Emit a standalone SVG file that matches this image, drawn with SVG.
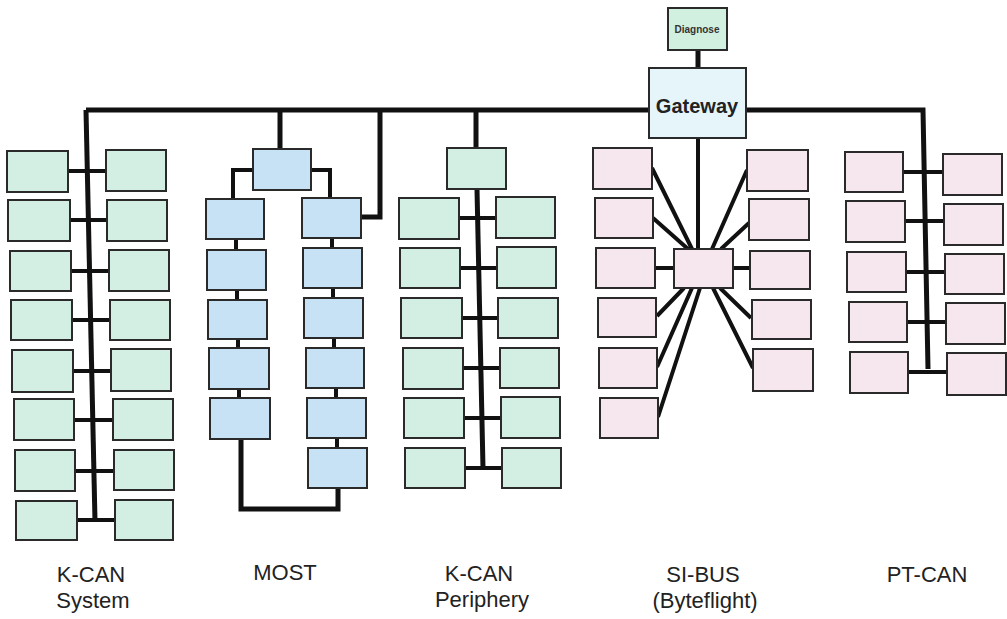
<svg xmlns="http://www.w3.org/2000/svg" width="1007" height="619" viewBox="0 0 1007 619">
<style>
rect{stroke:#2a2a2a;stroke-width:2}
.g{fill:#d3eee2}
.b{fill:#c6e2f4}
.p{fill:#f6e7ef}
.gw{fill:#e6f5fa}
.dg{fill:#d2f0df}
.bus{fill:none;stroke:#111;stroke-width:5;stroke-linejoin:miter}
.c{fill:none;stroke:#111;stroke-width:4}
.lbl{font-family:"Liberation Sans",Arial,sans-serif;font-size:22px;fill:#222;text-anchor:middle}
</style>
<rect width="1007" height="619" fill="#ffffff" style="stroke:none"/>
<g id="connectors">
<path class="bus" d="M86,110 H923 L928,369"/>
<path class="bus" d="M86,110 L95,521"/>
<path class="bus" d="M698,50 V68"/>
<path class="c" d="M698,138 V249"/>
<path class="c" d="M68,171 H106 M70,220 H107 M71,271 H109 M72,320 H110 M73,371 H111 M74,420 H113 M75,471 H114 M77,520 H115"/>
<path class="bus" d="M280,110 V149"/>
<path class="c" d="M253,170 H233 V199"/>
<path class="c" d="M311,170 H330 V198"/>
<path class="bus" d="M361,217 H380 V110"/>
<path class="c" d="M236,239 V250 M237,290 V300 M238,339 V348 M239,389 V398"/>
<path class="c" d="M332,238 V248 M333,288 V298 M334,338 V348 M336,388 V398 M337,438 V448"/>
<path class="bus" d="M241,438 V509 H338 V488"/>
<path class="bus" d="M476,110 V148"/>
<path class="bus" d="M477,189 L483,468"/>
<path class="c" d="M459,218 H496 M460,268 H497 M461,318 H498 M463,368 H500 M464,418 H501 M465,468 H502"/>
<path class="c" d="M652,168 L692,249 M653,218 L688,249 M655,268 H674 M657,316 L684,288 M657,367 L692,288 M658,417 L700,288"/>
<path class="c" d="M747,170 L712,249 M749,223 L721,249 M733,268 H750 M751,318 L720,288 M753,368 L713,288"/>
<path class="c" d="M903,172 H943 M905,221 H944 M906,272 H945 M907,322 H946 M908,372 H947"/>
</g>
<g id="diagnose"><rect class="dg" x="668" y="8" width="59" height="42"/><text x="697" y="33" style="font-family:'Liberation Sans',Arial,sans-serif;font-size:10px;font-weight:bold;fill:#333;text-anchor:middle">Diagnose</text></g>
<g id="gateway"><rect class="gw" x="649" y="68" width="97" height="70"/><text x="697" y="113" style="font-family:'Liberation Sans',Arial,sans-serif;font-size:20px;font-weight:bold;fill:#222;text-anchor:middle">Gateway</text></g>
<g id="kcan-system">
<rect class="g" x="7" y="151" width="61" height="41"/><rect class="g" x="106" y="150" width="60" height="41"/>
<rect class="g" x="8" y="200" width="62" height="41"/><rect class="g" x="107" y="200" width="60" height="41"/>
<rect class="g" x="10" y="251" width="61" height="40"/><rect class="g" x="109" y="250" width="60" height="41"/>
<rect class="g" x="11" y="300" width="61" height="40"/><rect class="g" x="110" y="300" width="60" height="40"/>
<rect class="g" x="12" y="350" width="61" height="42"/><rect class="g" x="111" y="349" width="60" height="42"/>
<rect class="g" x="14" y="399" width="60" height="41"/><rect class="g" x="113" y="399" width="60" height="41"/>
<rect class="g" x="15" y="450" width="60" height="41"/><rect class="g" x="114" y="450" width="60" height="40"/>
<rect class="g" x="16" y="501" width="61" height="39"/><rect class="g" x="115" y="500" width="58" height="40"/>
</g>
<g id="most">
<rect class="b" x="253" y="149" width="58" height="41"/>
<rect class="b" x="206" y="199" width="58" height="40"/><rect class="b" x="207" y="250" width="59" height="40"/><rect class="b" x="208" y="300" width="59" height="39"/><rect class="b" x="209" y="348" width="60" height="41"/><rect class="b" x="210" y="398" width="60" height="41"/>
<rect class="b" x="302" y="198" width="59" height="40"/><rect class="b" x="303" y="248" width="59" height="40"/><rect class="b" x="304" y="298" width="59" height="40"/><rect class="b" x="306" y="348" width="58" height="40"/><rect class="b" x="307" y="398" width="59" height="40"/><rect class="b" x="308" y="448" width="59" height="40"/>
</g>
<g id="kcan-periphery">
<rect class="g" x="447" y="148" width="59" height="41"/>
<rect class="g" x="399" y="198" width="60" height="41"/><rect class="g" x="496" y="197" width="59" height="41"/>
<rect class="g" x="400" y="248" width="60" height="40"/><rect class="g" x="497" y="247" width="59" height="41"/>
<rect class="g" x="401" y="298" width="61" height="40"/><rect class="g" x="498" y="298" width="60" height="40"/>
<rect class="g" x="403" y="348" width="60" height="41"/><rect class="g" x="500" y="348" width="59" height="40"/>
<rect class="g" x="404" y="398" width="60" height="40"/><rect class="g" x="501" y="397" width="59" height="41"/>
<rect class="g" x="405" y="448" width="60" height="40"/><rect class="g" x="502" y="448" width="59" height="40"/>
</g>
<g id="si-bus">
<rect class="p" x="674" y="249" width="59" height="39"/>
<rect class="p" x="593" y="148" width="59" height="41"/><rect class="p" x="595" y="198" width="58" height="40"/><rect class="p" x="596" y="248" width="59" height="40"/><rect class="p" x="598" y="298" width="58" height="39"/><rect class="p" x="599" y="348" width="58" height="40"/><rect class="p" x="600" y="398" width="58" height="40"/>
<rect class="p" x="747" y="150" width="61" height="41"/><rect class="p" x="749" y="199" width="60" height="41"/><rect class="p" x="750" y="251" width="60" height="38"/><rect class="p" x="752" y="300" width="59" height="39"/><rect class="p" x="753" y="349" width="60" height="42"/>
</g>
<g id="pt-can">
<rect class="p" x="845" y="152" width="58" height="40"/><rect class="p" x="943" y="154" width="59" height="41"/>
<rect class="p" x="846" y="201" width="59" height="41"/><rect class="p" x="944" y="204" width="59" height="41"/>
<rect class="p" x="847" y="252" width="59" height="40"/><rect class="p" x="945" y="254" width="59" height="40"/>
<rect class="p" x="849" y="302" width="58" height="40"/><rect class="p" x="946" y="303" width="59" height="41"/>
<rect class="p" x="850" y="352" width="58" height="41"/><rect class="p" x="947" y="353" width="59" height="42"/>
</g>
<g id="labels">
<text class="lbl" x="91" y="582">K-CAN</text><text class="lbl" x="93" y="608">System</text>
<text class="lbl" x="285" y="580">MOST</text>
<text class="lbl" x="479" y="581">K-CAN</text><text class="lbl" x="482" y="607">Periphery</text>
<text class="lbl" x="703" y="582">SI-BUS</text><text class="lbl" x="705" y="608">(Byteflight)</text>
<text class="lbl" x="927" y="582">PT-CAN</text>
</g>
</svg>
